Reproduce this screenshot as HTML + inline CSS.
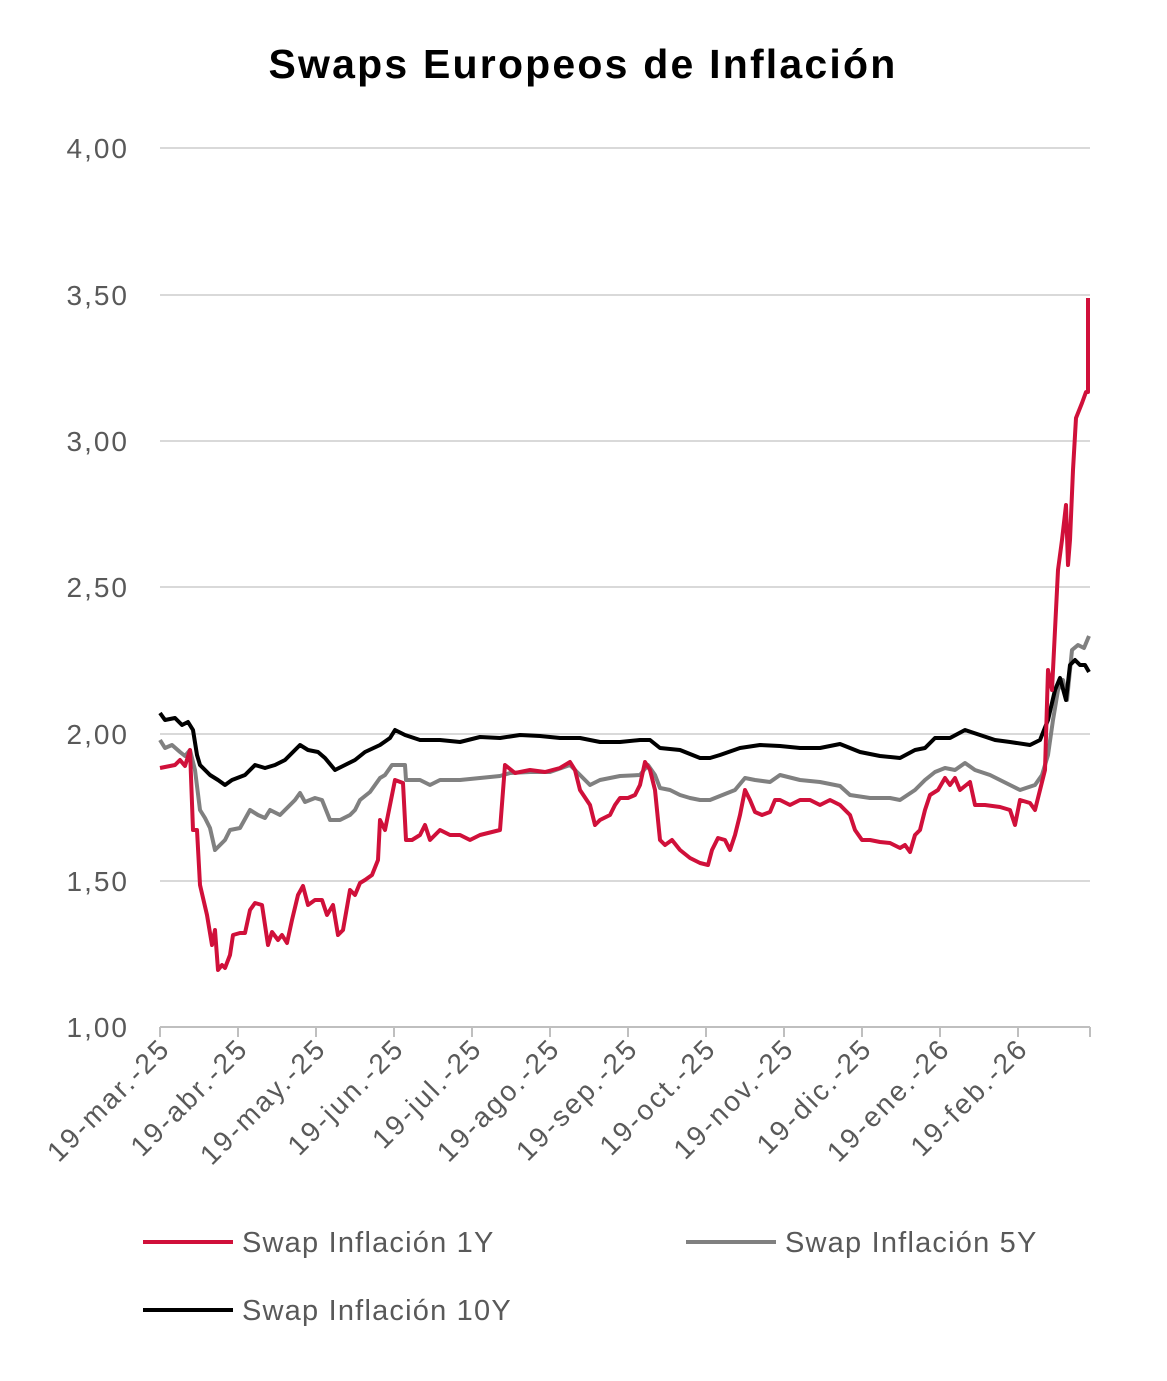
<!DOCTYPE html>
<html><head><meta charset="utf-8"><style>
body{margin:0;background:#fff;}
svg text{font-family:"Liberation Sans",sans-serif;}
</style></head><body>
<svg width="1167" height="1376" viewBox="0 0 1167 1376" xmlns="http://www.w3.org/2000/svg">
<rect width="1167" height="1376" fill="#fff"/>
<text x="583" y="78" text-anchor="middle" font-size="41" font-weight="bold" fill="#000" letter-spacing="2.2">Swaps Europeos de Inflación</text>
<g stroke="#d9d9d9" stroke-width="2">
<line x1="160" y1="148" x2="1090" y2="148"/><line x1="160" y1="295" x2="1090" y2="295"/>
<line x1="160" y1="441" x2="1090" y2="441"/><line x1="160" y1="587" x2="1090" y2="587"/>
<line x1="160" y1="734" x2="1090" y2="734"/><line x1="160" y1="881" x2="1090" y2="881"/>
</g>
<g stroke="#bfbfbf" stroke-width="2">
<line x1="160" y1="1027" x2="1090" y2="1027"/>
<line x1="160" y1="1027" x2="160" y2="1037"/><line x1="238" y1="1027" x2="238" y2="1037"/><line x1="316" y1="1027" x2="316" y2="1037"/><line x1="394" y1="1027" x2="394" y2="1037"/><line x1="472" y1="1027" x2="472" y2="1037"/><line x1="550" y1="1027" x2="550" y2="1037"/><line x1="628" y1="1027" x2="628" y2="1037"/><line x1="706" y1="1027" x2="706" y2="1037"/><line x1="784" y1="1027" x2="784" y2="1037"/><line x1="862" y1="1027" x2="862" y2="1037"/><line x1="940" y1="1027" x2="940" y2="1037"/><line x1="1018" y1="1027" x2="1018" y2="1037"/><line x1="1090" y1="1027" x2="1090" y2="1037"/>
</g>
<g font-size="28" fill="#595959" text-anchor="end" letter-spacing="2">
<text x="129" y="158">4,00</text><text x="129" y="305">3,50</text><text x="129" y="451">3,00</text>
<text x="129" y="597">2,50</text><text x="129" y="744">2,00</text><text x="129" y="891">1,50</text><text x="129" y="1037">1,00</text>
</g>
<g font-size="28" fill="#595959" text-anchor="end" letter-spacing="2.5">
<text transform="translate(172,1050) rotate(-45)">19-mar.-25</text>
<text transform="translate(250,1050) rotate(-45)">19-abr.-25</text>
<text transform="translate(328,1050) rotate(-45)">19-may.-25</text>
<text transform="translate(406,1050) rotate(-45)">19-jun.-25</text>
<text transform="translate(484,1050) rotate(-45)">19-jul.-25</text>
<text transform="translate(562,1050) rotate(-45)">19-ago.-25</text>
<text transform="translate(640,1050) rotate(-45)">19-sep.-25</text>
<text transform="translate(718,1050) rotate(-45)">19-oct.-25</text>
<text transform="translate(796,1050) rotate(-45)">19-nov.-25</text>
<text transform="translate(874,1050) rotate(-45)">19-dic.-25</text>
<text transform="translate(952,1050) rotate(-45)">19-ene.-26</text>
<text transform="translate(1030,1050) rotate(-45)">19-feb.-26</text>
</g>
<g fill="none" stroke-width="4" stroke-linejoin="round">
<polyline stroke="#808080" points="160,740 165,748 172,745 180,752 185,756 190,750 195,770 200,810 205,818 210,828 215,850 220,845 225,840 230,830 240,828 250,810 258,815 265,818 270,810 280,815 290,805 295,800 300,793 305,802 315,798 322,800 330,820 340,820 350,815 355,810 360,800 370,792 380,778 385,775 392,765 405,765 406,780 420,780 430,785 440,780 460,780 480,778 500,776 510,773 530,772 550,772 570,765 580,775 590,785 600,780 620,776 640,775 648,765 655,775 660,788 670,790 680,795 690,798 700,800 710,800 720,796 735,790 745,778 755,780 770,782 780,775 800,780 820,782 840,786 850,795 870,798 890,798 900,800 915,790 925,780 935,772 945,768 955,770 965,763 975,770 990,775 1000,780 1010,785 1020,790 1035,785 1042,775 1048,755 1053,720 1058,690 1063,680 1067,700 1072,650 1078,645 1084,648 1089,636"/>
<polyline stroke="#000" points="160,713 165,720 175,718 182,725 188,722 193,730 197,755 200,765 210,775 218,780 225,785 232,780 245,775 255,765 265,768 275,765 285,760 295,750 300,745 308,750 318,752 325,758 335,770 345,765 355,760 365,752 380,745 390,738 395,730 405,735 420,740 440,740 460,742 480,737 500,738 520,735 540,736 560,738 580,738 600,742 620,742 640,740 650,740 660,748 680,750 700,758 710,758 720,755 740,748 760,745 780,746 800,748 820,748 840,744 860,752 880,756 900,758 915,750 925,748 935,738 950,738 965,730 980,735 995,740 1010,742 1030,745 1040,740 1048,720 1055,690 1060,678 1066,700 1070,665 1075,660 1080,665 1085,665 1089,672"/>
<polyline stroke="#d0103a" points="160,768 175,765 180,760 185,766 190,750 193,830 197,830 200,885 207,915 212,945 215,930 218,970 222,965 225,968 230,955 233,935 240,933 245,933 250,910 255,903 262,905 268,945 272,932 278,940 282,935 287,943 292,920 298,895 303,886 308,905 315,900 322,900 327,915 333,905 338,935 343,930 350,890 355,895 360,883 365,880 372,875 378,860 380,820 385,830 390,805 395,780 403,783 406,840 412,840 420,835 425,825 430,840 440,830 450,835 460,835 470,840 480,835 500,830 505,765 515,773 530,770 545,772 560,768 570,762 575,770 580,790 590,805 595,825 600,820 610,815 615,805 620,798 628,798 635,795 640,785 645,762 650,770 655,790 660,840 665,845 672,840 680,850 690,858 700,863 708,865 712,850 718,838 725,840 730,850 735,835 740,815 745,790 750,800 755,812 762,815 770,812 775,800 780,800 790,805 800,800 810,800 820,805 830,800 840,805 850,815 855,830 862,840 870,840 880,842 890,843 900,848 905,845 910,852 915,835 920,830 925,810 930,795 938,790 945,778 950,785 955,778 960,790 970,782 975,805 985,805 1000,807 1010,810 1015,825 1020,800 1030,803 1035,810 1040,790 1045,770 1048,670 1052,690 1058,570 1062,540 1066,505 1068,565 1070,540 1073,470 1076,418 1082,403 1086,392 1088,392 1088,298"/>
</g>
<line x1="143" y1="1242" x2="233" y2="1242" stroke="#d0103a" stroke-width="4"/>
<text x="242" y="1252" font-size="29" fill="#595959" letter-spacing="1.2">Swap Inflación 1Y</text>
<line x1="686" y1="1242" x2="776" y2="1242" stroke="#808080" stroke-width="4"/>
<text x="785" y="1252" font-size="29" fill="#595959" letter-spacing="1.2">Swap Inflación 5Y</text>
<line x1="143" y1="1310" x2="233" y2="1310" stroke="#000" stroke-width="4"/>
<text x="242" y="1320" font-size="29" fill="#595959" letter-spacing="1.2">Swap Inflación 10Y</text>
</svg>
</body></html>
